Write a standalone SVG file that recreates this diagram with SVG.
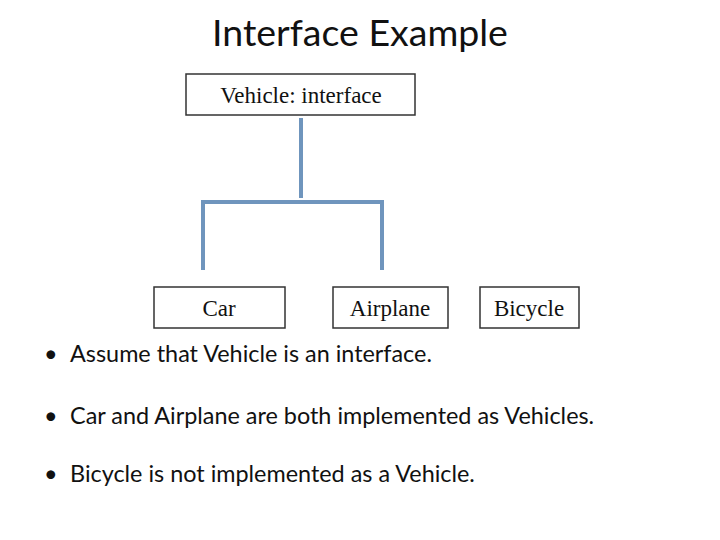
<svg xmlns="http://www.w3.org/2000/svg" width="720" height="540" viewBox="0 0 720 540">
<style>
.box{fill:#fff;stroke:#333;stroke-width:1.5}
.lbl{font-family:"Liberation Serif","DejaVu Serif",serif;font-size:23px;fill:#111;text-anchor:middle}
.con{fill:none;stroke:#6f95bd;stroke-width:4}
.txt{font-family:Lato,"Liberation Sans",sans-serif;font-size:23.4px;fill:#111}
</style>
<rect width="720" height="540" fill="#fff"/>
<text x="360" y="46" font-family="Lato,'Liberation Sans',sans-serif" font-size="37.5" text-anchor="middle" fill="#111">Interface Example</text>
<g id="connectors">
<path class="con" d="M301 118V198M203 270V202H382V270"/>
</g>
<g id="vehicle"><rect class="box" x="186" y="74" width="229" height="41"/><text class="lbl" x="301" y="103">Vehicle: interface</text></g>
<g id="car"><rect class="box" x="154" y="287" width="131" height="41"/><text class="lbl" x="219" y="316">Car</text></g>
<g id="airplane"><rect class="box" x="333" y="287" width="115" height="41"/><text class="lbl" x="390" y="316">Airplane</text></g>
<g id="bicycle"><rect class="box" x="480" y="287" width="99" height="41"/><text class="lbl" x="529" y="316">Bicycle</text></g>
<g class="txt">
<text x="44" y="362">•</text><text x="70" y="362">Assume that Vehicle is an interface.</text>
<text x="44" y="424">•</text><text x="70" y="424">Car and Airplane are both implemented as Vehicles.</text>
<text x="44" y="482">•</text><text x="70" y="482">Bicycle is not implemented as a Vehicle.</text>
</g>
</svg>
